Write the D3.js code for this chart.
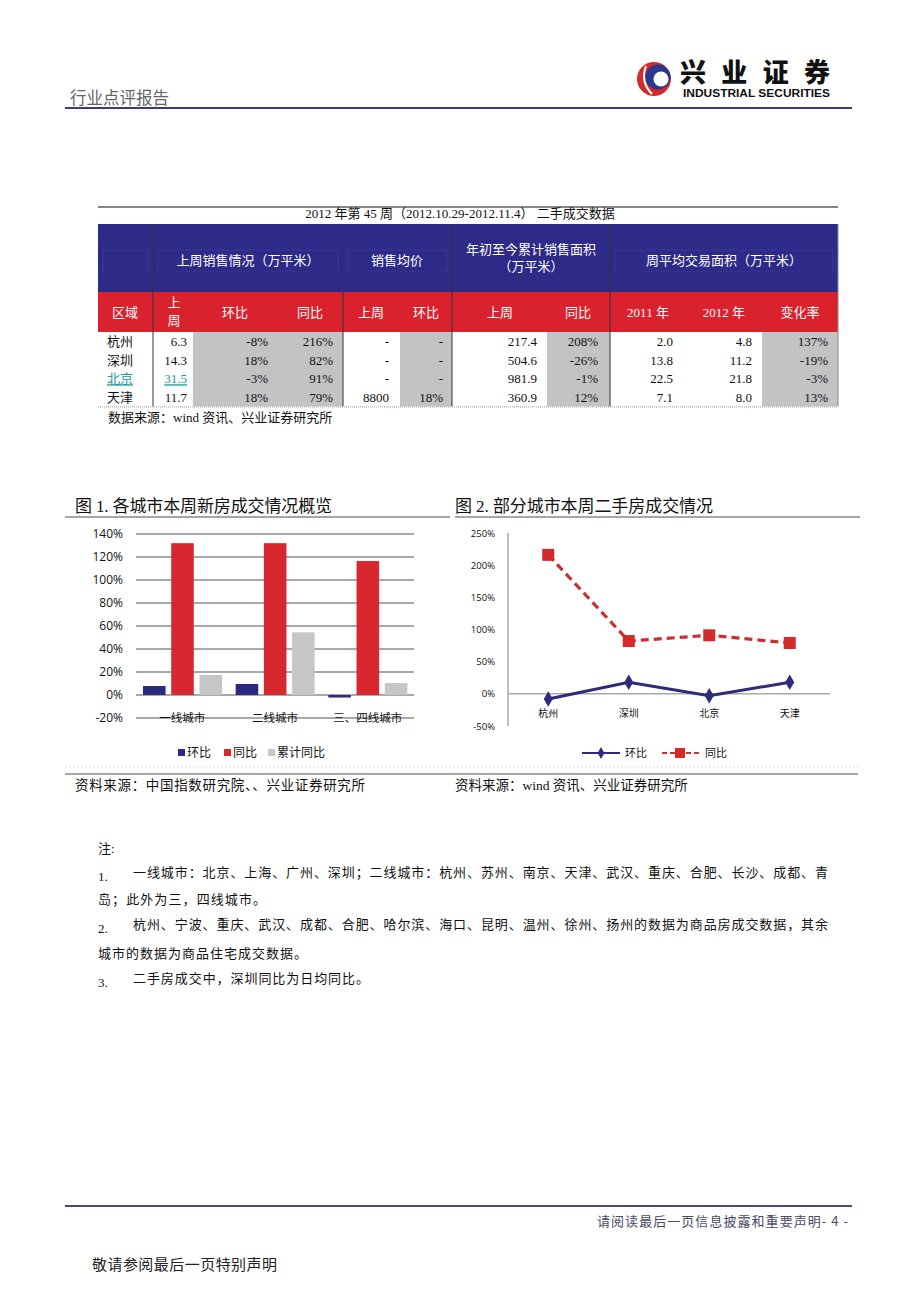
<!DOCTYPE html>
<html><head><meta charset="utf-8">
<script src="https://cdn.jsdelivr.net/npm/d3@7"></script>
<style>body{margin:0;background:#fff} svg{display:block}</style>
</head><body><svg id="page" width="920" height="1301"></svg>
<script>
// ---------- DATA ----------
const tableCities = ['杭州','深圳','北京','天津'];
const saleLastWeek = ['6.3','14.3','31.5','11.7'];
const saleHuanbi = ['-8%','18%','-3%','18%'];
const saleTongbi = ['216%','82%','91%','79%'];
const priceLastWeek = ['-','-','-','8800'];
const priceHuanbi = ['-','-','-','18%'];
const ytdLastWeek = ['217.4','504.6','981.9','360.9'];
const ytdTongbi = ['208%','-26%','-1%','12%'];
const avg2011 = ['2.0','13.8','22.5','7.1'];
const avg2012 = ['4.8','11.2','21.8','8.0'];
const avgChange = ['137%','-19%','-3%','13%'];

const chart1Categories = ['一线城市','二线城市','三、四线城市'];
const chart1Series = ['环比','同比','累计同比'];
const chart1Huanbi = [7.8, 9.6, -2.2];
const chart1Tongbi = [132, 132, 116.5];
const chart1Leiji = [17.4, 54.5, 10.4];
const chart1Ticks = [-20,0,20,40,60,80,100,120,140];

const chart2Categories = ['杭州','深圳','北京','天津'];
const chart2Series = ['环比','同比'];
const chart2Huanbi = [-8, 18, -3, 18];
const chart2Tongbi = [216, 82, 91, 79];
const chart2Ticks = [-50,0,50,100,150,200,250];

// ---------- STYLE ----------
const SERIF = '"Liberation Serif","Noto Sans CJK SC",serif';
const SANS = '"Noto Sans CJK SC","Open Sans",sans-serif';
const NUMSANS = '"Open Sans","Noto Sans",sans-serif';
const NAVY = '#2b2a7e', RED = '#d6282e', GREY = '#c6c6c6';

const svg = d3.select('#page');
svg.append('rect').attr('width',920).attr('height',1301).attr('fill','#fff');

function txt(g, x, y, s, opt={}) {
  const t = g.append('text').attr('x',x).attr('y',y).text(s)
    .attr('font-family', opt.family || SERIF)
    .attr('font-size', opt.size || 13)
    .attr('fill', opt.fill || '#111')
    .attr('text-anchor', opt.anchor || 'start');
  if (opt.weight) t.attr('font-weight', opt.weight);
  if (opt.len) t.attr('textLength', opt.len).attr('lengthAdjust', opt.adjust || 'spacing');
  if (opt.deco) t.attr('text-decoration', opt.deco);
  return t;
}

// ---------- HEADER ----------
txt(svg, 70, 104, '行业点评报告', {family: SANS, size: 16.5, fill: '#666'});
svg.append('line').attr('x1',65).attr('x2',852).attr('y1',108).attr('y2',108)
  .attr('stroke','#3d3a78').attr('stroke-width',2);
// logo
svg.append('circle').attr('cx',654).attr('cy',79).attr('r',17).attr('fill','#d42a2a');
svg.append('circle').attr('cx',658).attr('cy',77).attr('r',12.5).attr('fill','#27388f');
svg.append('circle').attr('cx',661).attr('cy',79).attr('r',7.5).attr('fill','#fff');
svg.append('path').attr('d','M646,66 Q640,82 652,94').attr('stroke','#fff').attr('stroke-width',2).attr('fill','none');
txt(svg, 680, 82, '兴业证券', {family: SANS, size: 26, weight: 900, fill:'#111', len: 150});
txt(svg, 683, 97, 'INDUSTRIAL SECURITIES', {family: '"Liberation Sans",sans-serif', size: 10, weight: 700, fill:'#111', len: 147, adjust:'spacingAndGlyphs'});

// ---------- TABLE ----------
const T = svg.append('g');
svg.append('line').attr('x1',98).attr('x2',838).attr('y1',207).attr('y2',207).attr('stroke','#111').attr('stroke-width',1.2);
txt(T, 460, 218, '2012 年第 45 周（2012.10.29-2012.11.4）  二手成交数据', {anchor:'middle', size: 13});
T.append('rect').attr('x',98).attr('y',224).attr('width',740).attr('height',68).attr('fill','#2d2a88');
T.append('rect').attr('x',98).attr('y',292).attr('width',740).attr('height',40).attr('fill','#d9222e');
// faint inner header boxes
[[103,148],[158,338],[348,447],[615,833]].forEach(([a,b])=>{
  T.append('rect').attr('x',a).attr('y',250).attr('width',b-a).attr('height',22).attr('fill','none').attr('stroke','#3f3c99').attr('stroke-width',0.8);
});
const W = {fill:'#fff', size: 13};
txt(T, 248, 265, '上周销售情况（万平米）', {...W, anchor:'middle'});
txt(T, 397, 265, '销售均价', {...W, anchor:'middle'});
txt(T, 531, 254, '年初至今累计销售面积', {...W, anchor:'middle'});
txt(T, 531, 271, '（万平米）', {...W, anchor:'middle'});
txt(T, 724, 265, '周平均交易面积（万平米）', {...W, anchor:'middle'});
txt(T, 125, 317, '区域', {...W, anchor:'middle'});
txt(T, 174, 307, '上', {...W, anchor:'middle'});
txt(T, 174, 325, '周', {...W, anchor:'middle'});
const subHeads = [['环比',235],['同比',310],['上周',371],['环比',426],['上周',500],['同比',578],['2011 年',648],['2012 年',724],['变化率',800]];
subHeads.forEach(([s,x])=>txt(T, x, 317, s, {...W, anchor:'middle'}));
// data rows
const rowTop = 332, rowH = 18.6;
const greyCols = [[193,343],[400,452],[547,610],[762,838]];
greyCols.forEach(([a,b])=>T.append('rect').attr('x',a).attr('y',rowTop).attr('width',b-a).attr('height',rowH*4).attr('fill','#c3c3c3'));
const colsData = [
  {arr: saleLastWeek, x: 187}, {arr: saleHuanbi, x: 268}, {arr: saleTongbi, x: 333},
  {arr: priceLastWeek, x: 389}, {arr: priceHuanbi, x: 443}, {arr: ytdLastWeek, x: 537},
  {arr: ytdTongbi, x: 598}, {arr: avg2011, x: 673}, {arr: avg2012, x: 752}, {arr: avgChange, x: 828}
];
tableCities.forEach((c,i)=>{
  const y = rowTop + rowH*(i+1) - 4.5;
  const isBJ = c === '北京';
  txt(T, 107, y, c, {size: 13, fill: isBJ ? '#1a9a9e' : '#111', deco: isBJ ? 'underline' : null});
  colsData.forEach((cd,j)=>{
    const teal = isBJ && j===0;
    txt(T, cd.x, y, cd.arr[i], {size: 13, anchor:'end', fill: teal ? '#1a9a9e' : '#111', deco: teal ? 'underline' : null});
  });
});
[153,452,610].forEach(x=>T.append('line').attr('x1',x).attr('x2',x).attr('y1',224).attr('y2',rowTop+rowH*4).attr('stroke','#333').attr('stroke-width',1));
T.append('line').attr('x1',343).attr('x2',343).attr('y1',292).attr('y2',rowTop+rowH*4).attr('stroke','#333').attr('stroke-width',1);
T.append('line').attr('x1',838).attr('x2',838).attr('y1',224).attr('y2',rowTop+rowH*4).attr('stroke','#888').attr('stroke-width',1);
T.append('line').attr('x1',98).attr('x2',838).attr('y1',rowTop+rowH*4+0.5).attr('y2',rowTop+rowH*4+0.5).attr('stroke','#999').attr('stroke-width',1).attr('stroke-dasharray','1,1');
txt(T, 108, 422, '数据来源：wind 资讯、兴业证券研究所', {size: 13});

// ---------- CHART TITLES ----------
txt(svg, 75, 512, '图 1. 各城市本周新房成交情况概览', {family: SERIF, size: 17, len: 257});
txt(svg, 455, 512, '图 2. 部分城市本周二手房成交情况', {family: SERIF, size: 17, len: 258});
svg.append('line').attr('x1',65).attr('x2',450).attr('y1',517).attr('y2',517).attr('stroke','#888').attr('stroke-width',1.5);
svg.append('line').attr('x1',455).attr('x2',860).attr('y1',517).attr('y2',517).attr('stroke','#888').attr('stroke-width',1.5);

// ---------- CHART 1 ----------
const c1 = svg.append('g');
const y1 = d3.scaleLinear().domain([-20,140]).range([718,534]);
const x1 = d3.scaleBand().domain(chart1Categories).range([136,414]);
const x1s = d3.scaleBand().domain(chart1Series).range([7,86]).paddingInner(0.2);
const c1Colors = d3.scaleOrdinal().domain(chart1Series).range([NAVY, RED, GREY]);
const yAxis1 = d3.axisLeft(y1).tickValues(chart1Ticks).tickFormat(d=>d+'%').tickSize(0).tickPadding(0);
const ga1 = c1.append('g').attr('transform','translate(123,0)').call(yAxis1);
ga1.select('.domain').remove();
ga1.selectAll('text').attr('font-family', NUMSANS).attr('font-size',12).attr('fill','#111');
c1.append('g').selectAll('line').data(chart1Ticks).join('line')
  .attr('x1',136).attr('x2',414).attr('y1',d=>y1(d)).attr('y2',d=>y1(d))
  .attr('stroke','#a9a9a9').attr('stroke-width',2);
const c1Data = chart1Categories.map((c,i)=>({cat:c, vals:[
  {s:chart1Series[0], v:chart1Huanbi[i]}, {s:chart1Series[1], v:chart1Tongbi[i]}, {s:chart1Series[2], v:chart1Leiji[i]}]}));
c1.append('g').selectAll('g').data(c1Data).join('g')
  .attr('transform', d=>`translate(${x1(d.cat)},0)`)
  .selectAll('rect').data(d=>d.vals).join('rect')
  .attr('x', d=>x1s(d.s)).attr('width', x1s.bandwidth())
  .attr('y', d=>Math.min(y1(d.v), y1(0))).attr('height', d=>Math.abs(y1(d.v)-y1(0)))
  .attr('fill', d=>c1Colors(d.s));
chart1Categories.forEach(c=>txt(c1, x1(c)+x1.bandwidth()/2, 722, c, {family: SANS, size: 11.5, anchor:'middle'}));
// legend
const leg1 = [[182,'环比'],[228,'同比'],[272,'累计同比']];
leg1.forEach(([x,s],i)=>{
  c1.append('rect').attr('x',x-4).attr('y',749).attr('width',7).attr('height',7).attr('fill',c1Colors(chart1Series[i]));
  txt(c1, x+5, 757, s, {family: SANS, size: 12});
});

// ---------- CHART 2 ----------
const c2 = svg.append('g');
const y2 = d3.scaleLinear().domain([-50,250]).range([726,533]);
const x2 = d3.scaleBand().domain(chart2Categories).range([508,830]);
const cx2 = c => x2(c) + x2.bandwidth()/2;
const yAxis2 = d3.axisLeft(y2).tickValues(chart2Ticks).tickFormat(d=>d+'%').tickSize(0).tickPadding(0);
const ga2 = c2.append('g').attr('transform','translate(495,0)').call(yAxis2);
ga2.select('.domain').remove();
ga2.selectAll('text').attr('font-family', NUMSANS).attr('font-size',9.5).attr('fill','#111');
c2.append('line').attr('x1',508).attr('x2',508).attr('y1',533).attr('y2',726).attr('stroke','#a9a9a9').attr('stroke-width',1.5);
c2.append('line').attr('x1',508).attr('x2',830).attr('y1',y2(0)).attr('y2',y2(0)).attr('stroke','#a9a9a9').attr('stroke-width',1.5);
chart2Categories.forEach(c=>txt(c2, cx2(c), 717, c, {family: SANS, size: 10, anchor:'middle'}));
const line2 = d3.line().x(d=>cx2(d.c)).y(d=>y2(d.v));
const tb = chart2Categories.map((c,i)=>({c, v: chart2Tongbi[i]}));
const hb = chart2Categories.map((c,i)=>({c, v: chart2Huanbi[i]}));
c2.append('path').datum(tb).attr('d',line2).attr('fill','none').attr('stroke','#c9302f').attr('stroke-width',3.2).attr('stroke-dasharray','8,5');
c2.selectAll('rect.tb').data(tb).join('rect').attr('class','tb')
  .attr('x',d=>cx2(d.c)-6).attr('y',d=>y2(d.v)-6).attr('width',12).attr('height',12).attr('fill','#d42a2a');
c2.append('path').datum(hb).attr('d',line2).attr('fill','none').attr('stroke','#2e2a7c').attr('stroke-width',3);
const diamond = d3.symbol().type(d3.symbolDiamond).size(70);
c2.selectAll('path.hb').data(hb).join('path').attr('class','hb')
  .attr('transform',d=>`translate(${cx2(d.c)},${y2(d.v)})`).attr('d',diamond).attr('fill','#2e2a7c');
// legend
c2.append('line').attr('x1',582).attr('x2',620).attr('y1',753).attr('y2',753).attr('stroke','#2e2a7c').attr('stroke-width',2);
c2.append('path').attr('transform','translate(601,753)').attr('d',d3.symbol().type(d3.symbolDiamond).size(40)).attr('fill','#2e2a7c');
txt(c2, 625, 757, chart2Series[0], {family: SANS, size: 11});
c2.append('line').attr('x1',662).attr('x2',699).attr('y1',753).attr('y2',753).attr('stroke','#c9302f').attr('stroke-width',2).attr('stroke-dasharray','5,3');
c2.append('rect').attr('x',675).attr('y',748).attr('width',10).attr('height',10).attr('fill','#d42a2a');
txt(c2, 705, 757, chart2Series[1], {family: SANS, size: 11});

// bottom lines & sources
svg.append('line').attr('x1',65).attr('x2',858).attr('y1',767).attr('y2',767).attr('stroke','#ccc').attr('stroke-width',1).attr('stroke-dasharray','1,3');
svg.append('line').attr('x1',65).attr('x2',858).attr('y1',774).attr('y2',774).attr('stroke','#888').attr('stroke-width',1.5);
txt(svg, 75, 790, '资料来源：中国指数研究院、、兴业证券研究所', {size: 13.5, len: 290});
txt(svg, 455, 790, '资料来源：wind 资讯、兴业证券研究所', {size: 13.5});

// ---------- NOTES ----------
const N = svg.append('g');
txt(N, 98, 853, '注:', {size: 13});
txt(N, 98, 881, '1.', {size: 13});
txt(N, 133, 877, '一线城市：北京、上海、广州、深圳；二线城市：杭州、苏州、南京、天津、武汉、重庆、合肥、长沙、成都、青', {size: 13, len: 695});
txt(N, 98, 904, '岛；此外为三，四线城市。', {size: 13, len: 168});
txt(N, 98, 933, '2.', {size: 13});
txt(N, 133, 929, '杭州、宁波、重庆、武汉、成都、合肥、哈尔滨、海口、昆明、温州、徐州、扬州的数据为商品房成交数据，其余', {size: 13, len: 695});
txt(N, 98, 958, '城市的数据为商品住宅成交数据。', {size: 13, len: 209});
txt(N, 98, 987, '3.', {size: 13});
txt(N, 133, 983, '二手房成交中，深圳同比为日均同比。', {size: 13, len: 236});

// ---------- FOOTER ----------
svg.append('line').attr('x1',65).attr('x2',852).attr('y1',1206).attr('y2',1206).attr('stroke','#4a4880').attr('stroke-width',2);
txt(svg, 848, 1226, '请阅读最后一页信息披露和重要声明- 4 -', {family: SANS, size: 13, fill: '#4a4a66', anchor: 'end', len: 251});
txt(svg, 92, 1270, '敬请参阅最后一页特别声明', {family: SANS, size: 15, fill: '#222', len: 185});
</script></body></html>
